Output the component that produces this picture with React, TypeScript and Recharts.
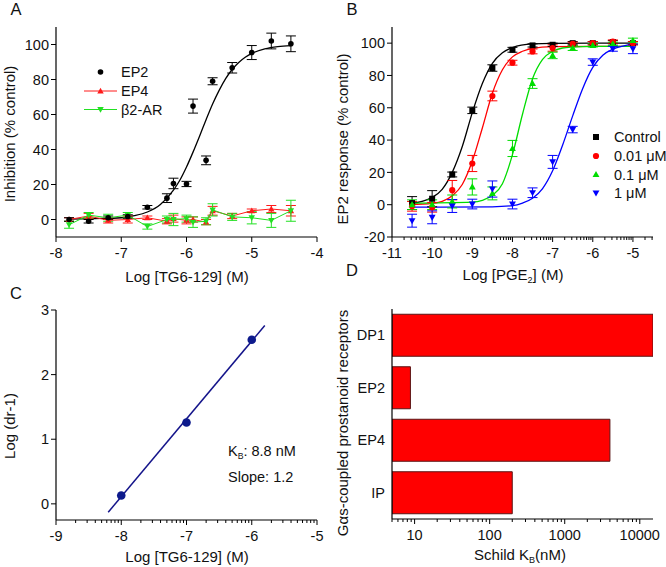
import React from "react";
import {
  ComposedChart,
  BarChart,
  Bar,
  Line,
  Scatter,
  ErrorBar,
  XAxis,
  YAxis,
} from "recharts";

const FONT = '"Liberation Sans", Arial, sans-serif';
const INK = "#111";
const TICK_FS = 14.5;

// ---- Panel A: TG6-129 inhibition ----
const aDoseX = [-7.8, -7.5, -7.2, -6.9, -6.6, -6.3, -6.2, -6.0, -5.9, -5.7, -5.6, -5.3, -5.0, -4.7, -4.4];
const aEp2Y = [0, -1, 1, 1.7, 7, 12.2, 20.6, 20.3, 64.8, 33.8, 79, 86.7, 95.4, 102, 100.4];
const aEp2Err = [1, 1, 1, 1, 1, 2.5, 3, 1.5, 4, 2.5, 2, 3, 4, 4.5, 4.5];
const aEp4Y = [0, 2, -0.5, 0, 1, -1, 0.5, -0.5, 0, -1.5, 5, 2, 5, 6, 5];
const aEp4Err = [1, 1.5, 1.5, 2, 1, 1.5, 2, 2, 1.5, 1.5, 2.5, 1.5, 1, 2, 3];
const aB2Y = [-3, 2.5, 1, 2.5, -4, 0, 0, 0.5, -1.5, -1, 5.5, 1.5, 1, -0.5, 5];
const aB2Err = [2, 1.5, 2, 1.5, 1.5, 2, 3.5, 2, 3, 2, 3.5, 2, 3.5, 4, 6];
const aFitX = [-7.8, -7.4, -7.0, -6.8, -6.6, -6.4, -6.2, -6.1, -6.0, -5.9, -5.8, -5.7, -5.6, -5.5, -5.4, -5.3, -5.2, -5.1, -5.0, -4.8, -4.6, -4.4];
const aFitY = [0.2, 0.5, 1.0, 2.2, 4.3, 8.6, 16.8, 22.6, 30, 38.5, 47.6, 57, 66, 73.8, 80.5, 85.7, 89.7, 92.7, 94.9, 97.5, 98.8, 99.4];
const aYTicks = [0, 20, 40, 60, 80, 100];
const aXTicks = [-8, -7, -6, -5, -4];

// ---- Panel B: PGE2 response with TG6-129 ----
const bDoseX = [-10.5, -10, -9.5, -9, -8.5, -8, -7.5, -7, -6.5, -6, -5.5, -5];
const bCtrlY = [1, 3.7, 18.7, 58.4, 84.6, 95.9, 98.6, 99, 100, 100, 100.6, 100];
const bCtrlErr = [4, 5, 1.5, 2, 2, 1.5, 1, 1, 1, 1, 1, 1];
const b001Y = [-1, -1.6, 9, 25.5, 67.3, 87.9, 94.9, 97, 99.6, 100, 101, 100];
const b001Err = [3, 3, 6, 5, 3, 1.5, 1.5, 2, 1, 1, 1, 1];
const b01Y = [0, 0, 2, 11, 7, 34.8, 75, 92.4, 97, 98.6, 99.6, 101.6];
const b01Err = [3, 3, 4, 5, 4, 5, 3, 2, 1.5, 1, 1, 1.5];
const b1Y = [-9.9, -7.8, -0.8, 0.4, 9.7, 0.4, 7.4, 26.5, 46.5, 88.3, 96.5, 96.5];
const b1Err = [4, 4, 4, 3, 5, 3, 3, 4, 2, 2, 1.5, 3];
const bCtrlFitX = [-10.55, -10.25, -10, -9.75, -9.5, -9.25, -9, -8.75, -8.5, -8.25, -8, -7.5, -7, -6, -5];
const bCtrlFitY = [0.7, 2, 4.5, 9.5, 20, 36, 57, 75, 87.5, 94, 97.3, 99.5, 99.9, 100, 100];
const b001FitX = [-10.55, -10, -9.75, -9.5, -9.25, -9, -8.75, -8.5, -8.25, -8, -7.75, -7.5, -7, -6, -5];
const b001FitY = [0, 0.8, 2, 5.5, 12.5, 27, 47.5, 69, 83.5, 91.5, 95, 96.8, 97.8, 98, 98];
const b01FitX = [-10.55, -9, -8.75, -8.5, -8.25, -8, -7.75, -7.5, -7.25, -7, -6.75, -6.5, -6, -5];
const b01FitY = [1, 1.6, 2.7, 5.8, 13, 31, 56, 78, 90, 95, 97, 97.6, 98, 98];
const b1FitX = [-10.55, -8.5, -8, -7.75, -7.5, -7.25, -7, -6.75, -6.5, -6.25, -6, -5.75, -5.5, -5.25, -5];
const b1FitY = [-1.5, -1.3, -0.6, 1, 4, 10, 21, 37, 55, 72, 85, 92.5, 96.3, 98.2, 99.2];
const bYTicks = [-20, 0, 20, 40, 60, 80, 100];
const bXMajor = [-11, -10, -9, -8, -7, -6, -5];

// ---- Panel C: Schild plot ----
const cX = [-8, -7, -6];
const cY = [0.13, 1.26, 2.54];
const cFitX = [-8.2, -5.8];
const cFitY = [-0.13, 2.76];
const cYTicks = [0, 1, 2, 3];
const cXMajor = [-9, -8, -7, -6, -5];

// ---- Panel D: Schild KB per receptor ----
const dReceptors = ["DP1", "EP2", "EP4", "IP"];
const dKb = [15000, 8.8, 4000, 200];
const dXMajor = [10, 100, 1000, 10000];

const zip = (xs: number[], ys: number[], es?: number[]) =>
  xs.map((x, i) => ({ x, y: ys[i], e: es ? es[i] : 0 }));

// log-style minor ticks for axes in log10 units
function expTicks(lo: number, hi: number) {
  const out: number[] = [];
  for (let d = Math.floor(lo); d <= Math.floor(hi); d++) {
    for (let k = 1; k <= 9; k++) {
      const v = d + Math.log10(k);
      if (v >= lo - 1e-9 && v <= hi + 1e-9) out.push(+v.toFixed(4));
    }
  }
  return out;
}
function linTicks(lo: number, hi: number) {
  const out: number[] = [];
  for (let d = 0; d <= 4; d++) {
    for (let k = 1; k <= 9; k++) {
      const v = k * Math.pow(10, d);
      if (v >= lo && v <= hi) out.push(v);
    }
  }
  return out;
}

const isMajor = (majors: number[], v: number) => majors.some((m) => Math.abs(m - v) < 1e-6);

const xTick = (majors: number[]) => (p: any) => {
  const v = p.payload.value;
  const major = isMajor(majors, v);
  return (
    <g>
      <line x1={p.x} x2={p.x} y1={p.y} y2={p.y + (major ? 5 : 3)} stroke="#000" strokeWidth={1} />
      {major && (
        <text x={p.x} y={p.y + 21} textAnchor="middle" fontSize={TICK_FS} fontFamily={FONT} fill={INK}>
          {v}
        </text>
      )}
    </g>
  );
};

const yTick = (p: any) => (
  <g>
    <line x1={p.x} x2={p.x - 5} y1={p.y} y2={p.y} stroke="#000" strokeWidth={1} />
    <text x={p.x - 7} y={p.y} dy="0.36em" textAnchor="end" fontSize={TICK_FS} fontFamily={FONT} fill={INK}>
      {p.payload.value}
    </text>
  </g>
);

const catTick = (p: any) => (
  <text x={p.x - 7} y={p.y} dy="0.36em" textAnchor="end" fontSize={TICK_FS} fontFamily={FONT} fill={INK}>
    {p.payload.value}
  </text>
);

function Marker({ kind, cx, cy, color, s = 3 }: { kind: string; cx: number; cy: number; color: string; s?: number }) {
  if (cx == null || cy == null) return null;
  if (kind === "circle") return <circle cx={cx} cy={cy} r={s} fill={color} />;
  if (kind === "square") return <rect x={cx - s} y={cy - s} width={2 * s} height={2 * s} fill={color} />;
  if (kind === "up")
    return (
      <polygon
        points={`${cx},${cy - s * 1.2} ${cx - s * 1.15},${cy + s * 0.85} ${cx + s * 1.15},${cy + s * 0.85}`}
        fill={color}
      />
    );
  return (
    <polygon
      points={`${cx},${cy + s * 1.2} ${cx - s * 1.15},${cy - s * 0.85} ${cx + s * 1.15},${cy - s * 0.85}`}
      fill={color}
    />
  );
}

const shape = (kind: string, color: string, s?: number) => (p: any) =>
  <Marker kind={kind} cx={p.cx} cy={p.cy} color={color} s={s} />;

function Title({ x, y, rotate, size = 15, children }: any) {
  return (
    <div
      style={{
        position: "absolute",
        left: x,
        top: y,
        transform: `translate(-50%, -50%)${rotate ? " rotate(-90deg)" : ""}`,
        whiteSpace: "nowrap",
        fontSize: size,
        fontFamily: FONT,
        color: INK,
        lineHeight: 1,
      }}
    >
      {children}
    </div>
  );
}

const Sub = ({ children }: any) => (
  <sub style={{ fontSize: "0.6em", verticalAlign: "-0.3em" }}>{children}</sub>
);

const axisLine = { stroke: "#000", strokeWidth: 1.2 };

function PanelA() {
  return (
    <ComposedChart width={333} height={290} margin={{ top: 27, right: 16, bottom: 0, left: 0 }}>
      <XAxis
        type="number"
        dataKey="x"
        domain={[-8, -4]}
        ticks={aXTicks}
        interval={0}
        tickSize={0}
        tickMargin={0}
        tick={xTick(aXTicks)}
        axisLine={axisLine}
        height={53}
        allowDataOverflow
      />
      <YAxis
        type="number"
        domain={[-10, 110]}
        ticks={aYTicks}
        interval={0}
        tickSize={0}
        tickMargin={0}
        tick={yTick}
        axisLine={axisLine}
        width={56}
        allowDataOverflow
      />
      <Line data={zip(aFitX, aFitY)} dataKey="y" type="monotone" stroke="#000" strokeWidth={1.3} dot={false} isAnimationActive={false} />
      <Scatter
        data={zip(aDoseX, aEp4Y, aEp4Err)}
        dataKey="y"
        line={{ stroke: "#ff1a1a", strokeWidth: 1 }}
        lineType="joint"
        shape={shape("up", "#ff1a1a", 2.8)}
        isAnimationActive={false}
      >
        <ErrorBar dataKey="e" direction="y" width={5} stroke="#ff1a1a" strokeWidth={1} />
      </Scatter>
      <Scatter
        data={zip(aDoseX, aB2Y, aB2Err)}
        dataKey="y"
        line={{ stroke: "#22e022", strokeWidth: 1 }}
        lineType="joint"
        shape={shape("down", "#22e022", 2.8)}
        isAnimationActive={false}
      >
        <ErrorBar dataKey="e" direction="y" width={5} stroke="#22e022" strokeWidth={1} />
      </Scatter>
      <Scatter data={zip(aDoseX, aEp2Y, aEp2Err)} dataKey="y" shape={shape("circle", "#000", 2.8)} isAnimationActive={false}>
        <ErrorBar dataKey="e" direction="y" width={5} stroke="#000" strokeWidth={1} />
      </Scatter>
    </ComposedChart>
  );
}

function PanelB() {
  const series = [
    { fitX: bCtrlFitX, fitY: bCtrlFitY, y: bCtrlY, e: bCtrlErr, color: "#000", kind: "square" },
    { fitX: b001FitX, fitY: b001FitY, y: b001Y, e: b001Err, color: "#ff0000", kind: "circle" },
    { fitX: b01FitX, fitY: b01FitY, y: b01Y, e: b01Err, color: "#00dd00", kind: "up" },
    { fitX: b1FitX, fitY: b1FitY, y: b1Y, e: b1Err, color: "#0000ff", kind: "down" },
  ];
  const xTicks = expTicks(-11, -4.5);
  return (
    <ComposedChart width={333} height={290} margin={{ top: 27, right: 13, bottom: 0, left: 0 }}>
      <XAxis
        type="number"
        dataKey="x"
        domain={[-11, -4.5]}
        ticks={xTicks}
        interval={0}
        tickSize={0}
        tickMargin={0}
        tick={xTick(bXMajor)}
        axisLine={axisLine}
        height={53}
        allowDataOverflow
      />
      <YAxis
        type="number"
        domain={[-20, 110]}
        ticks={bYTicks}
        interval={0}
        tickSize={0}
        tickMargin={0}
        tick={yTick}
        axisLine={axisLine}
        width={59}
        allowDataOverflow
      />
      {series.map((s, i) => (
        <Line
          key={"f" + i}
          data={zip(s.fitX, s.fitY)}
          dataKey="y"
          type="monotone"
          stroke={s.color}
          strokeWidth={1.3}
          dot={false}
          isAnimationActive={false}
        />
      ))}
      {series.map((s, i) => (
        <Scatter
          key={"s" + i}
          data={zip(bDoseX, s.y, s.e)}
          dataKey="y"
          shape={shape(s.kind, s.color, s.kind === "circle" ? 3.1 : 3)}
          isAnimationActive={false}
        >
          <ErrorBar dataKey="e" direction="y" width={5} stroke={s.color} strokeWidth={1} />
        </Scatter>
      ))}
    </ComposedChart>
  );
}

function PanelC() {
  const xTicks = expTicks(-9, -5);
  return (
    <ComposedChart width={333} height={284} margin={{ top: 27, right: 16, bottom: 0, left: 0 }}>
      <XAxis
        type="number"
        dataKey="x"
        domain={[-9, -5]}
        ticks={xTicks}
        interval={0}
        tickSize={0}
        tickMargin={0}
        tick={xTick(cXMajor)}
        axisLine={axisLine}
        height={47}
        allowDataOverflow
      />
      <YAxis
        type="number"
        domain={[-0.25, 3]}
        ticks={cYTicks}
        interval={0}
        tickSize={0}
        tickMargin={0}
        tick={yTick}
        axisLine={axisLine}
        width={56}
        allowDataOverflow
      />
      <Line data={zip(cFitX, cFitY)} dataKey="y" type="linear" stroke="#14148a" strokeWidth={1.5} dot={false} isAnimationActive={false} />
      <Scatter data={zip(cX, cY)} dataKey="y" shape={shape("circle", "#0d1a8c", 4.3)} isAnimationActive={false} />
    </ComposedChart>
  );
}

function PanelD() {
  const data = dReceptors.map((name, i) => ({ name, kb: dKb[i] }));
  const xTicks = linTicks(5, 15000);
  return (
    <BarChart
      width={333}
      height={284}
      layout="vertical"
      data={data}
      margin={{ top: 26, right: 13, bottom: 0, left: 0 }}
      barCategoryGap="10%"
    >
      <XAxis
        type="number"
        scale="log"
        domain={[5, 15000]}
        ticks={xTicks}
        interval={0}
        tickSize={0}
        tickMargin={0}
        tick={xTick(dXMajor)}
        axisLine={axisLine}
        height={48}
        allowDataOverflow
      />
      <YAxis
        type="category"
        dataKey="name"
        tickSize={0}
        tickMargin={0}
        tick={catTick}
        axisLine={axisLine}
        width={59}
      />
      <Bar dataKey="kb" fill="#ff0000" stroke="#5a1414" strokeWidth={1} isAnimationActive={false} />
    </BarChart>
  );
}

function LegendA() {
  const rows = [
    { label: "EP2", color: "#000", kind: "circle", line: false, y: 72 },
    { label: "EP4", color: "#ff1a1a", kind: "up", line: true, y: 91 },
    { label: "β2-AR", color: "#22e022", kind: "down", line: true, y: 109.5 },
  ];
  return (
    <svg width={200} height={130} style={{ position: "absolute", left: 0, top: 0, overflow: "visible" }}>
      {rows.map((r) => (
        <g key={r.label}>
          {r.line && <line x1={84} x2={117} y1={r.y} y2={r.y} stroke={r.color} strokeWidth={1} />}
          <Marker kind={r.kind} cx={100.5} cy={r.y} color={r.color} s={2.8} />
          <text x={121} y={r.y} dy="0.36em" fontSize={14.5} fontFamily={FONT} fill={INK}>
            {r.label}
          </text>
        </g>
      ))}
    </svg>
  );
}

function LegendB() {
  const rows = [
    { label: "Control", color: "#000", kind: "square", y: 137 },
    { label: "0.01 μM", color: "#ff0000", kind: "circle", y: 156 },
    { label: "0.1 μM", color: "#00dd00", kind: "up", y: 174.5 },
    { label: "1 μM", color: "#0000ff", kind: "down", y: 193 },
  ];
  return (
    <svg width={666} height={300} style={{ position: "absolute", left: 0, top: 0, overflow: "visible" }}>
      {rows.map((r) => (
        <g key={r.label}>
          <Marker kind={r.kind} cx={596} cy={r.y} color={r.color} s={r.kind === "circle" ? 3.1 : 3} />
          <text x={614} y={r.y} dy="0.36em" fontSize={14.5} fontFamily={FONT} fill={INK}>
            {r.label}
          </text>
        </g>
      ))}
    </svg>
  );
}

export default function App() {
  return (
    <div style={{ position: "absolute", left: 0, top: 0, width: 666, height: 567, background: "#fff", overflow: "hidden" }}>
      <div style={{ position: "absolute", left: 0, top: 0 }}>
        <PanelA />
      </div>
      <div style={{ position: "absolute", left: 333, top: 0 }}>
        <PanelB />
      </div>
      <div style={{ position: "absolute", left: 0, top: 283 }}>
        <PanelC />
      </div>
      <div style={{ position: "absolute", left: 333, top: 283 }}>
        <PanelD />
      </div>
      <LegendA />
      <LegendB />

      <Title x={16} y={9} size={16.5}>A</Title>
      <Title x={352} y={9} size={16.5}>B</Title>
      <Title x={16} y={293} size={16.5}>C</Title>
      <Title x={352} y={270} size={16.5}>D</Title>

      <Title x={9} y={134} rotate>Inhibition (% control)</Title>
      <Title x={187} y={276}>Log [TG6-129] (M)</Title>
      <Title x={342} y={139} rotate>EP2 response (% control)</Title>
      <Title x={513} y={276}>
        Log [PGE<Sub>2</Sub>] (M)
      </Title>
      <Title x={9} y={426} rotate>Log (dr-1)</Title>
      <Title x={187} y={556}>Log [TG6-129] (M)</Title>
      <Title x={342} y={423} rotate>Gαs-coupled prostanoid receptors</Title>
      <Title x={520} y={556}>
        Schild K<Sub>B</Sub>(nM)
      </Title>

      <div style={{ position: "absolute", left: 228, top: 441, fontSize: 14.5, fontFamily: FONT, color: INK, lineHeight: "21.5px" }}>
        <div>
          K<Sub>B</Sub>: 8.8 nM
        </div>
        <div>Slope: 1.2</div>
      </div>
    </div>
  );
}
